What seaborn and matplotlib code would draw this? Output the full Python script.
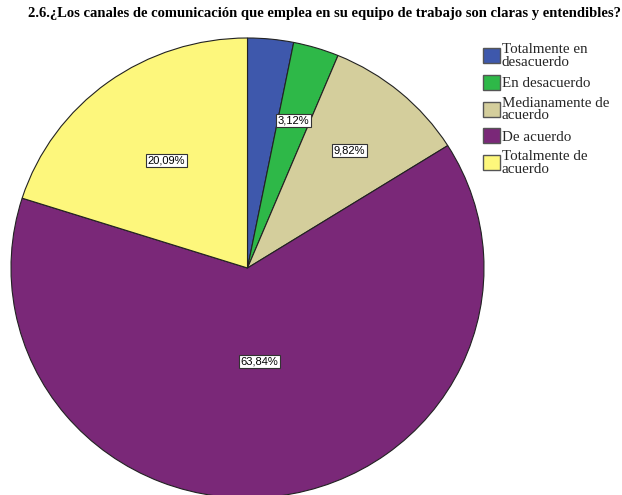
import matplotlib
matplotlib.use("Agg")
import matplotlib.pyplot as plt
import seaborn as sns
import numpy as np

sns.set_theme(style="white")

categories = ["Totalmente en\ndesacuerdo", "En desacuerdo", "Medianamente de\nacuerdo",
              "De acuerdo", "Totalmente de\nacuerdo"]
percentages = [3.13, 3.12, 9.82, 63.84, 20.09]
shown_labels = [None, "3,12%", "9,82%", "63,84%", "20,09%"]
label_radius = [0.67, 0.67, 0.67, 0.41, 0.58]
colors = ["#3E58AC", "#2EB848", "#D4CE9C", "#7A2878", "#FDF77C"]
title = "2.6.¿Los canales de comunicación que emplea en su equipo de trabajo son claras y entendibles?"

W, H = 622, 495
fig = plt.figure(figsize=(W / 100, H / 100), dpi=100)

# pie area in pixel terms: x 11..484, y 38..498 (from top)
left, right, top, bottom = 11, 484, 38, 498
ax = fig.add_axes([left / W, (H - bottom) / H, (right - left) / W, (bottom - top) / H])

wedges, _ = ax.pie(percentages, colors=colors, startangle=90, counterclock=False,
                   radius=1.0, wedgeprops=dict(edgecolor="#222222", linewidth=0.8))
ax.set_aspect("auto")
ax.set_xlim(-1, 1)
ax.set_ylim(-1, 1)
ax.axis("off")
for w in wedges:
    w.set_clip_on(False)

for w, lab, r in zip(wedges, shown_labels, label_radius):
    if lab is None:
        continue
    ang = np.deg2rad((w.theta1 + w.theta2) / 2)
    x, y = r * np.cos(ang), r * np.sin(ang)
    ax.text(x, y, lab, ha="center", va="center", fontsize=8,
            family=["Liberation Sans", "DejaVu Sans"], color="black",
            bbox=dict(boxstyle="square,pad=0.15", fc="white", ec="#333333", lw=0.8))

fig.text(324 / W, 1 - 13 / H, title, ha="center", va="center", fontsize=10.5,
         fontweight="bold", family=["Liberation Serif", "DejaVu Serif"], color="black")

leg = fig.legend(wedges, categories, loc="upper left",
                 bbox_to_anchor=(483 / W, 1 - 43 / H), frameon=False,
                 prop=dict(family="Liberation Serif", size=10.8),
                 handlelength=1.15, handleheight=1.15, handletextpad=0.1,
                 labelspacing=0.42, borderpad=0, borderaxespad=0)
for t in leg.get_texts():
    t.set_linespacing(0.95)
for h in leg.legend_handles:
    h.set_edgecolor("#555555")
    h.set_linewidth(1.0)

fig.savefig("out.png", dpi=100)
